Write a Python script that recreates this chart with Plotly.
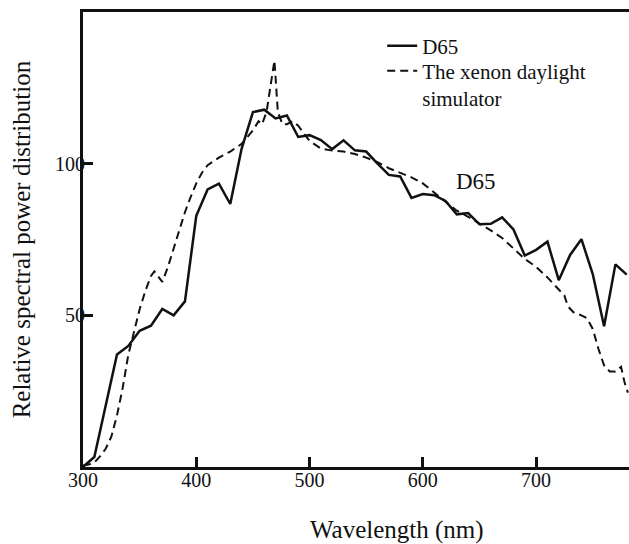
import plotly.graph_objects as go

# D65 relative spectral power distribution (solid)
d65_nm = [300, 310, 320, 330, 340, 350, 360, 370, 380, 390, 400, 410, 420, 430, 440,
          450, 460, 470, 480, 490, 500, 510, 520, 530, 540, 550, 560, 570, 580, 590,
          600, 610, 620, 630, 640, 650, 660, 670, 680, 690, 700, 710, 720, 730, 740,
          750, 760, 770, 780]
d65_val = [0.03, 3.3, 20.2, 37.1, 39.9, 44.9, 46.6, 52.1, 50.0, 54.6, 82.8, 91.5, 93.4, 86.7, 104.9,
           117.0, 117.8, 114.9, 115.9, 108.8, 109.4, 107.8, 104.8, 107.7, 104.4, 104.0, 100.0, 96.3, 95.8, 88.7,
           90.0, 89.6, 87.7, 83.3, 83.7, 80.0, 80.2, 82.3, 78.3, 69.7, 71.6, 74.3, 61.6, 69.9, 75.1,
           63.6, 46.4, 66.8, 63.4]

# Xenon daylight simulator (dashed)
xe_nm = [300, 305, 310, 315, 320, 325, 330, 335, 340, 345, 350, 355, 360, 363, 366, 370,
         375, 380, 385, 390, 395, 400, 405, 410, 420, 430, 440, 450, 455, 458, 462, 467,
         469, 472, 476, 480, 485, 490, 495, 500, 510, 520, 530, 540, 550, 560, 570, 580,
         590, 600, 605, 610, 620, 630, 640, 650, 660, 670, 680, 690, 700, 710, 720, 725,
         728, 733, 740, 745, 750, 755, 760, 765, 770, 775, 778, 781]
xe_val = [0.5, 0.8, 1.5, 3.5, 6, 10, 17, 26, 37, 45, 52, 58, 63, 64.5, 63, 61,
          66, 72, 78, 84, 89, 93.5, 97, 99.5, 102, 104, 106.5, 111, 114, 113, 117, 130,
          134, 117, 113, 113, 114, 112.5, 110, 107.5, 105, 104.3, 104, 103.2, 102, 100.5, 98.5, 97,
          95.5, 93.5, 92, 90.5, 87.5, 84.5, 82.5, 80.3, 78, 75.5, 72, 68.6, 66, 62.5, 58.5, 56.5,
          53, 51, 50, 49, 45.5, 39, 33.5, 31.5, 31.5, 33, 28, 24.5]

x_ticks = [300, 400, 500, 600, 700]
y_ticks = [50, 100]

FONT = "Liberation Serif, Times New Roman, serif"
INK = "#111111"

fig = go.Figure()
fig.add_trace(go.Scatter(x=d65_nm, y=d65_val, mode="lines", name="D65",
                         line=dict(color=INK, width=2.5), legend="legend", showlegend=True))
fig.add_trace(go.Scatter(x=xe_nm, y=xe_val, mode="lines",
                         name="The xenon daylight<br>simulator",
                         line=dict(color=INK, width=2, dash="8px,5px"), legend="legend2",
                         showlegend=True))

axis_common = dict(showline=True, linecolor=INK, linewidth=3,
                   ticks="inside", ticklen=10, tickwidth=2.5, tickcolor=INK,
                   showgrid=False, zeroline=False,
                   tickfont=dict(family=FONT, size=20, color=INK))

fig.update_xaxes(range=[300, 782], tickvals=x_ticks, mirror=True,
                 ticklabelstandoff=-7, **axis_common)
fig.update_yaxes(range=[0, 150], tickvals=y_ticks, ticklabelstandoff=-9, **axis_common)

legend_common = dict(xanchor="left", yanchor="top",
                     font=dict(family=FONT, size=21, color=INK),
                     bgcolor="rgba(0,0,0,0)", valign="top")

fig.update_layout(
    width=629, height=544,
    margin=dict(l=83, r=0, t=12, b=77),
    showlegend=True,
    plot_bgcolor="white", paper_bgcolor="white",
    font=dict(family=FONT, color=INK),
    legend=dict(x=0.548, y=0.97, **legend_common),
    legend2=dict(x=0.548, y=0.915, **legend_common),
    annotations=[
        dict(text="Wavelength (nm)", xref="paper", yref="paper", x=0.575, y=-0.1385,
             xanchor="center", yanchor="middle", showarrow=False,
             font=dict(family=FONT, size=25, color=INK)),
        dict(text="Relative spectral power distribution", xref="paper", yref="paper",
             x=-0.112, y=0.5, xanchor="center", yanchor="middle", textangle=-90,
             showarrow=False, font=dict(family=FONT, size=25, color=INK)),
        dict(text="D65", x=647, y=94, xref="x", yref="y", showarrow=False,
             xanchor="center", yanchor="middle",
             font=dict(family=FONT, size=23, color=INK)),
    ],
)

fig.write_html("out.html", config={"displayModeBar": False},
               post_script="document.body.style.margin='0';document.body.style.overflow='hidden';")
